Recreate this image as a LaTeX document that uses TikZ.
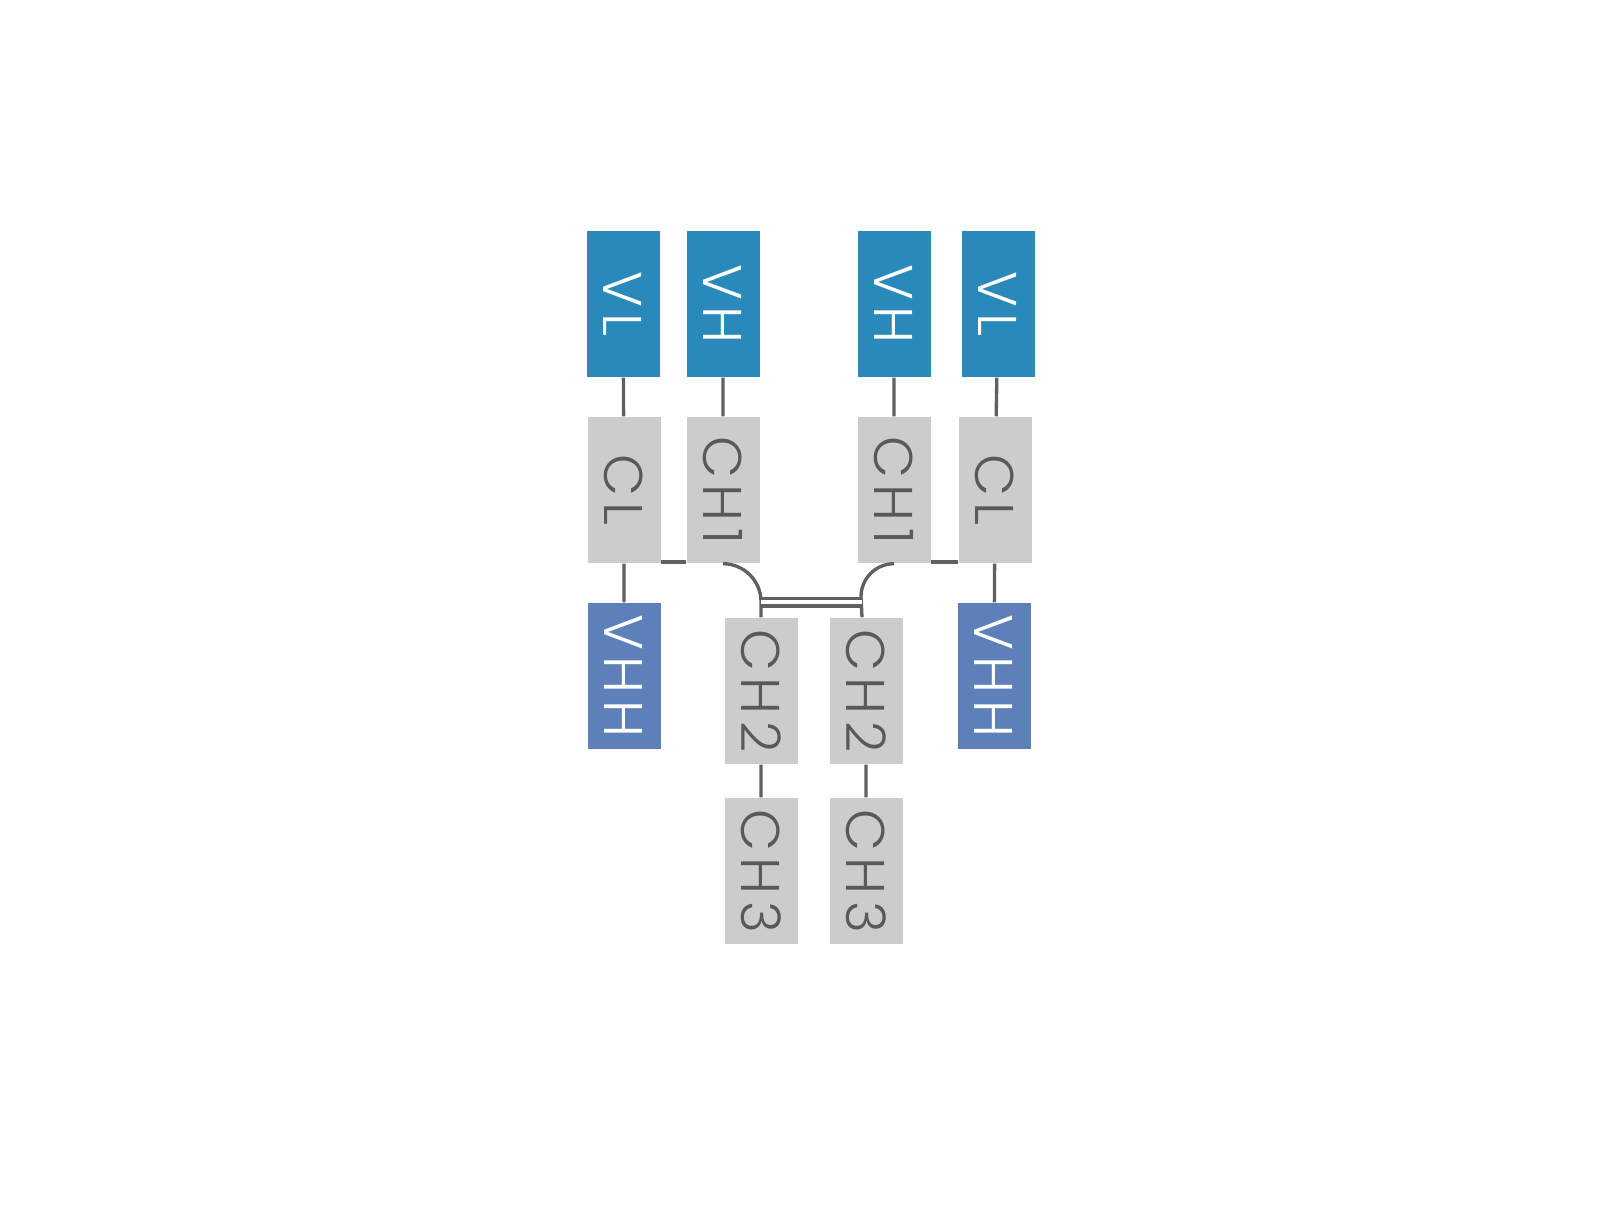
\documentclass[tikz,border=0pt]{standalone}
\usepackage{fontspec}
\newfontfamily\boxfont[LetterSpace=12]{Poppins Light}
\definecolor{vblue}{RGB}{42,137,187}
\definecolor{vhhblue}{RGB}{94,128,185}
\definecolor{cgray}{RGB}{204,204,204}
\definecolor{lgray}{RGB}{96,96,96}
\definecolor{tgray}{RGB}{89,89,89}
\newcommand{\turn}[1]{\rotatebox{-90}{#1}}
\tikzset{
    chain/.style={minimum width=7.3mm, minimum height=14.6mm, inner sep=0pt, font=\boxfont\fontsize{15.5}{18}\selectfont},
    vbox/.style={chain, fill=vblue, text=white},
    vhhbox/.style={chain, fill=vhhblue, text=white},
    cbox/.style={chain, fill=cgray, text=tgray},
    link/.style={draw=lgray, line width=0.95pt}
}
\begin{document}
\begin{tikzpicture}[x=0.1mm, y=-0.1mm]
        \useasboundingbox (0,0) rectangle (1621,1205);

        % Venstre arm
        \node[vbox] (VLa) at (623,304) {\turn{VL}};
        \node[vbox] (VHa) at (723,304) {\turn{VH}};
        \node[cbox] (CLa) at (624,490) {\turn{CL}};
        \node[cbox] (CH1a) at (723,490) {\turn{CH1}};
        \node[vhhbox] (VHHa) at (624,676) {\turn{VHH}};
        \node[cbox] (CH2a) at (761,691) {\turn{CH2}};
        \node[cbox] (CH3a) at (761,871) {\turn{CH3}};

        % Hoejre arm
        \node[vbox] (VHb) at (894,304) {\turn{VH}};
        \node[vbox] (VLb) at (998,304) {\turn{VL}};
        \node[cbox] (CH1b) at (894,490) {\turn{CH1}};
        \node[cbox] (CLb) at (995,490) {\turn{CL}};
        \node[vhhbox] (VHHb) at (994,676) {\turn{VHH}};
        \node[cbox] (CH2b) at (866,691) {\turn{CH2}};
        \node[cbox] (CH3b) at (866,871) {\turn{CH3}};

        \path[link] (VLa) -- (CLa) (VHa) -- (CH1a) (CLa) -- (VHHa) (CH2a) -- (CH3a)
                    (VHb) -- (CH1b) (VLb) -- (CLb) (CLb) -- (VHHb) (CH2b) -- (CH3b);
        \path[link] ([yshift=0.16mm]CLa.south east) -- ([yshift=0.16mm]CH1a.south west) % CL til CH1
                    ([yshift=0.16mm]CH1b.south east) -- ([yshift=0.16mm]CLb.south west);
        \path[link] (CH1a.south) arc[start angle=-90, end angle=0, radius=38] -- (CH2a.north) % Hinge
                    (CH1b.south) arc[start angle=-90, end angle=-180, radius=33] -- ([xshift=-0.4mm]CH2b.north);
        \path[draw=lgray, line width=0.95pt, double=white, double distance=1.2pt]
                    ([yshift=1.52mm]CH2a.north) -- ([xshift=-0.4mm, yshift=1.52mm]CH2b.north); % Disulfidbro
\end{tikzpicture}
\end{document}
